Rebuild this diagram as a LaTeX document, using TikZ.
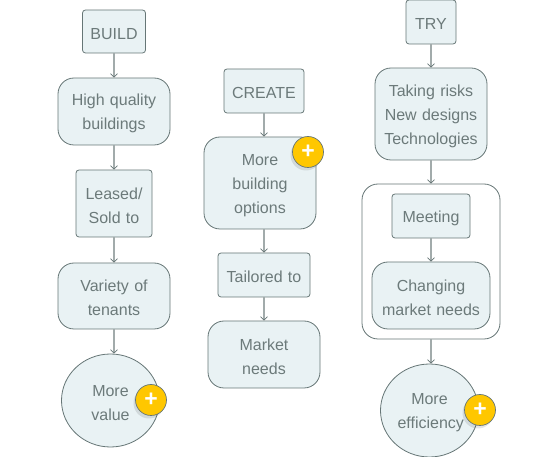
\documentclass[tikz,border=0pt]{standalone}
\usepackage{fontspec}
\setmainfont{Liberation Sans}
\usetikzlibrary{arrows.meta,shadows,shapes.geometric}
\definecolor{boxfill}{HTML}{E9F2F4}
\definecolor{boxline}{HTML}{667676}
\definecolor{txtc}{HTML}{6C7A7A}
\definecolor{arrc}{HTML}{A2ABAB}
\definecolor{badge}{HTML}{FFC700}
\tikzset{
  base/.style={draw=boxline,fill=boxfill,line width=0.8pt,text=txtc,font=\fontsize{16}{24}\selectfont,align=center,inner sep=0pt,execute at begin node={\vskip-8pt}},
  sbox/.style={base,rounded corners=3pt},
  rbox/.style={base,rounded corners=16pt},
  cbox/.style={base,ellipse,text width=64pt},
  group/.style={draw=boxline,fill=white,line width=0.8pt,rounded corners=16pt,inner sep=0pt},
  flow/.style={draw=arrc,line width=1.2pt,-{Straight Barb[length=3.5pt,width=7pt,line width=0.7pt,color=boxline]}},
  plus/.style={circle,draw=boxline,fill=badge,line width=0.7pt,minimum size=31pt,inner sep=0pt,text=white,font=\fontsize{23}{23}\selectfont,
    drop shadow={shadow xshift=-2pt,shadow yshift=-3pt,fill=black,opacity=0.10}},
}
\newcommand{\bx}[7]{\node[#1,minimum width=#4pt,minimum height=#5pt,text width=#4pt] (#2) at (#6,#7) {#3};}
\begin{document}
\begin{tikzpicture}[x=1pt,y=-1pt]
\useasboundingbox (0,0) rectangle (542,457);
% column 1
\bx{sbox}{build}{BUILD}{63}{43}{114}{31.5}
\bx{rbox}{high}{High quality\\buildings}{112}{67}{114}{111.5}
\bx{sbox}{leased}{Leased/\\Sold to}{76}{67}{114}{203.5}
\bx{rbox}{variety}{Variety of\\tenants}{112}{66}{114}{296}
\node[cbox,minimum width=98pt,minimum height=93pt] (value) at (110.5,400.5) {More\\value};
\node[plus] (p1) at (151,400) {\textbf{+}};
\draw[flow] (build.south) -- (high.north);
\draw[flow] (high.south) -- (leased.north);
\draw[flow] (leased.south) -- (variety.north);
\draw[flow] (variety.south) -- (variety.south |- value.north);
% column 2
\bx{sbox}{create}{CREATE}{80}{44}{264}{91}
\bx{rbox}{options}{More\\building\\options}{112}{92}{260}{183}
\bx{sbox}{tailored}{Tailored to}{92}{44}{264}{275}
\bx{rbox}{market}{Market\\needs}{112}{67}{264}{354.5}
\node[plus] (p2) at (308,152) {\textbf{+}};
\draw[flow] (create.south) -- (create.south |- options.north);
\draw[flow] (create.south |- options.south) -- (tailored.north);
\draw[flow] (tailored.south) -- (market.north);
% column 3
\bx{sbox}{try}{TRY}{50}{44}{431}{22}
\bx{rbox}{taking}{Taking risks\\New designs\\Technologies}{112}{92}{431}{114}
\node[group,minimum width=138pt,minimum height=155pt] (grp) at (431,261.5) {};
\bx{sbox}{meeting}{Meeting}{78}{44}{431}{216}
\bx{rbox}{changing}{Changing\\market needs}{118}{67}{431}{295.5}
\node[cbox,minimum width=98pt,minimum height=93pt] (eff) at (429.5,410.5) {More\\efficiency};
\node[plus] (p3) at (480,410) {\textbf{+}};
\draw[flow] (try.south) -- (taking.north);
\draw[flow] (taking.south) -- (grp.north);
\draw[flow] (meeting.south) -- (changing.north);
\draw[flow] (grp.south) -- (grp.south |- eff.north);
\end{tikzpicture}
\end{document}
